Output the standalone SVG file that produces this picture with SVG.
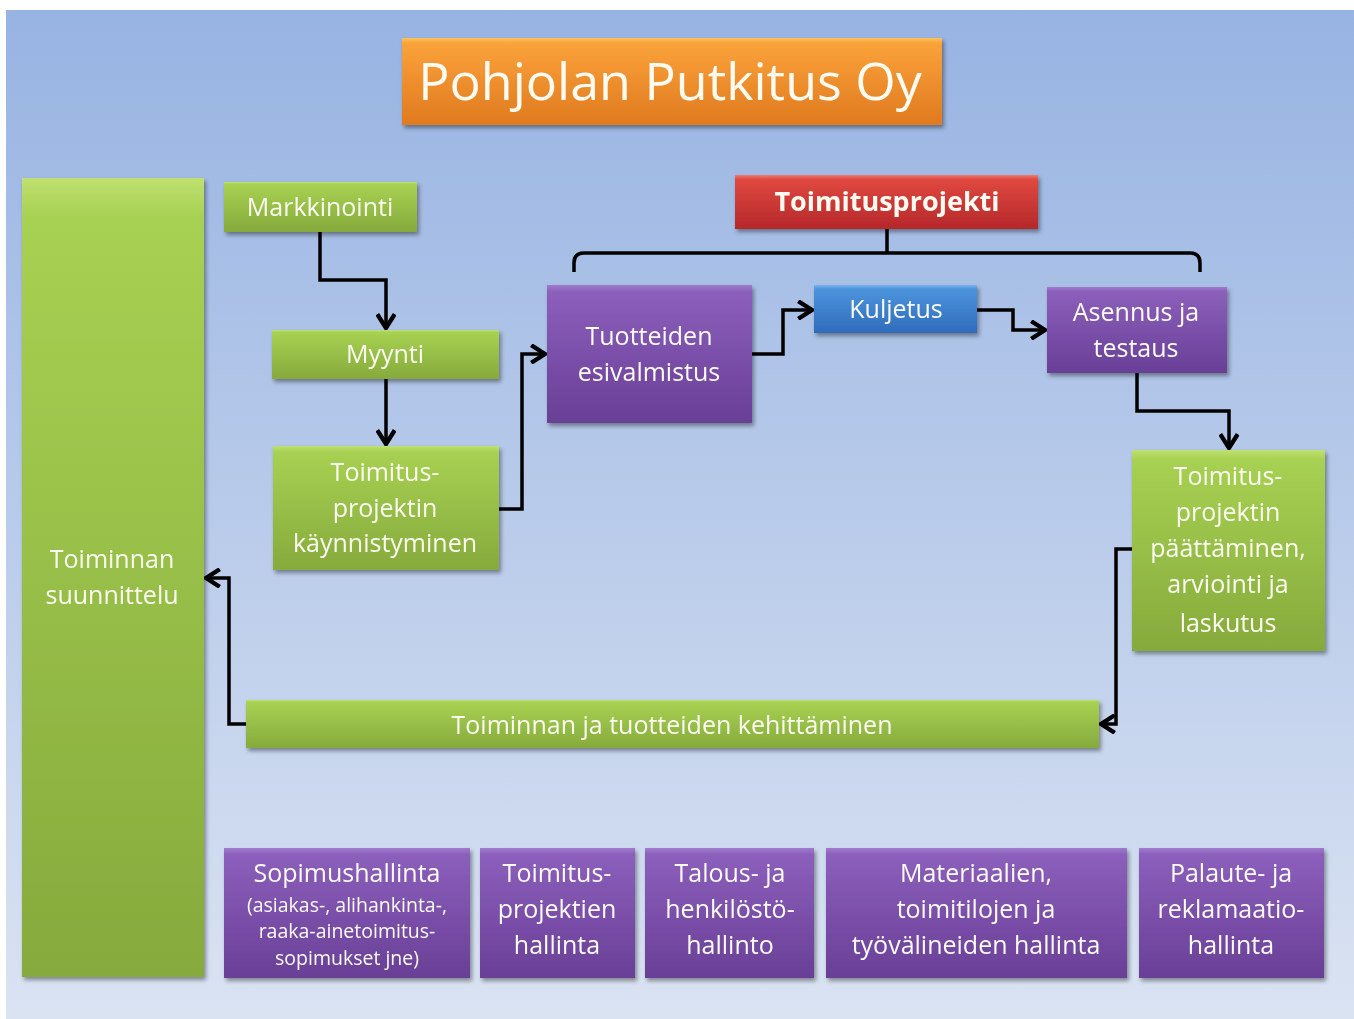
<svg xmlns="http://www.w3.org/2000/svg" width="1354" height="1019" viewBox="0 0 1354 1019">
<defs>
<linearGradient id="bg" x1="0" y1="0" x2="0" y2="1"><stop offset="0" stop-color="#97b3e2"/><stop offset="1" stop-color="#dae3f2"/></linearGradient>
<linearGradient id="gGreen" x1="0" y1="0" x2="0" y2="1"><stop offset="0" stop-color="#bfe070"/><stop offset="0.05" stop-color="#a7d152"/><stop offset="1" stop-color="#86aa3c"/></linearGradient>
<linearGradient id="gPurple" x1="0" y1="0" x2="0" y2="1"><stop offset="0" stop-color="#a07ccc"/><stop offset="0.05" stop-color="#8b5fbb"/><stop offset="1" stop-color="#693f96"/></linearGradient>
<linearGradient id="gBlue" x1="0" y1="0" x2="0" y2="1"><stop offset="0" stop-color="#7ab4ee"/><stop offset="0.08" stop-color="#4c94dc"/><stop offset="1" stop-color="#2e6cbb"/></linearGradient>
<linearGradient id="gRed" x1="0" y1="0" x2="0" y2="1"><stop offset="0" stop-color="#f07a72"/><stop offset="0.08" stop-color="#e04840"/><stop offset="1" stop-color="#b5282a"/></linearGradient>
<linearGradient id="gOrange" x1="0" y1="0" x2="0" y2="1"><stop offset="0" stop-color="#fcc25a"/><stop offset="0.06" stop-color="#faa23a"/><stop offset="1" stop-color="#e07a1f"/></linearGradient>
<filter id="sh" x="-10%" y="-10%" width="120%" height="130%"><feDropShadow dx="2" dy="3" stdDeviation="2" flood-color="#000" flood-opacity="0.4"/></filter>
<marker id="arr" markerUnits="userSpaceOnUse" markerWidth="20" markerHeight="20" viewBox="0 0 14 16" refX="12" refY="8" orient="auto"><path d="M1,1 L12,8 L1,15" fill="none" stroke="#000" stroke-width="3.5"/></marker>
</defs>
<style>
.box{filter:url(#sh);}
.green{fill:url(#gGreen);}
.purple{fill:url(#gPurple);}
.blue{fill:url(#gBlue);}
.red{fill:url(#gRed);}
.orange{fill:url(#gOrange);}
text{font-family:"Open Sans","Noto Sans","Liberation Sans",sans-serif;fill:#fbfbf2;text-anchor:middle;font-size:25px;}
.small{font-size:19.5px;}
.bold{font-weight:bold;font-size:27px;}
.title{font-size:52px;}
.conn{fill:none;stroke:#000;stroke-width:3.5;}
</style>
<rect x="0" y="0" width="1354" height="1019" fill="#ffffff"/>
<rect x="6" y="10" width="1348" height="1009" fill="url(#bg)"/>

<g id="connectors">
<path class="conn" d="M887 229 V253 M574 272 V263 Q574 253 584 253 H1190 Q1200 253 1200 263 V272"/>
<path class="conn" d="M320 232 V280 H386 V328" marker-end="url(#arr)"/>
<path class="conn" d="M386 379 V444" marker-end="url(#arr)"/>
<path class="conn" d="M499 509 H522 V354 H545" marker-end="url(#arr)"/>
<path class="conn" d="M752 354 H783 V310 H812" marker-end="url(#arr)"/>
<path class="conn" d="M977 310 H1013 V330 H1045" marker-end="url(#arr)"/>
<path class="conn" d="M1137 373 V411 H1229 V448" marker-end="url(#arr)"/>
<path class="conn" d="M1132 549 H1116 V724 H1101" marker-end="url(#arr)"/>
<path class="conn" d="M246 724 H229 V578 H206" marker-end="url(#arr)"/>
</g>

<g id="title" class="box"><rect class="orange" x="402" y="38" width="540" height="87"/><text class="title" x="670" y="100">Pohjolan Putkitus Oy</text></g>

<g id="toiminnan-suunnittelu" class="box"><rect class="green" x="22" y="178" width="182" height="799"/><text x="112" y="568">Toiminnan</text><text x="112" y="604">suunnittelu</text></g>

<g id="markkinointi" class="box"><rect class="green" x="224" y="182" width="193" height="50"/><text x="320" y="216">Markkinointi</text></g>

<g id="myynti" class="box"><rect class="green" x="272" y="330" width="227" height="49"/><text x="385" y="363">Myynti</text></g>

<g id="kaynnistyminen" class="box"><rect class="green" x="273" y="446" width="226" height="124"/><text x="385" y="481">Toimitus-</text><text x="385" y="517">projektin</text><text x="385" y="552">käynnistyminen</text></g>

<g id="toimitusprojekti" class="box"><rect class="red" x="735" y="175" width="303" height="54"/><text class="bold" x="887" y="211">Toimitusprojekti</text></g>

<g id="esivalmistus" class="box"><rect class="purple" x="547" y="285" width="205" height="138"/><text x="649" y="345">Tuotteiden</text><text x="649" y="381">esivalmistus</text></g>

<g id="kuljetus" class="box"><rect class="blue" x="814" y="285" width="163" height="48"/><text x="896" y="318">Kuljetus</text></g>

<g id="asennus" class="box"><rect class="purple" x="1047" y="287" width="180" height="86"/><text x="1136" y="321">Asennus ja</text><text x="1136" y="357">testaus</text></g>

<g id="paattaminen" class="box"><rect class="green" x="1132" y="450" width="193" height="201"/><text x="1228" y="485">Toimitus-</text><text x="1228" y="521">projektin</text><text x="1228" y="557">päättäminen,</text><text x="1228" y="593">arviointi ja</text><text x="1228" y="632">laskutus</text></g>

<g id="kehittaminen" class="box"><rect class="green" x="246" y="700" width="853" height="48"/><text x="672" y="734">Toiminnan ja tuotteiden kehittäminen</text></g>

<g id="sopimushallinta" class="box"><rect class="purple" x="224" y="848" width="246" height="130"/><text x="347" y="882">Sopimushallinta</text><text class="small" x="347" y="912">(asiakas-, alihankinta-,</text><text class="small" x="347" y="938">raaka-ainetoimitus-</text><text class="small" x="347" y="965">sopimukset jne)</text></g>

<g id="projektien-hallinta" class="box"><rect class="purple" x="480" y="848" width="155" height="130"/><text x="557" y="882">Toimitus-</text><text x="557" y="918">projektien</text><text x="557" y="954">hallinta</text></g>

<g id="talous" class="box"><rect class="purple" x="645" y="848" width="169" height="130"/><text x="730" y="882">Talous- ja</text><text x="730" y="918">henkilöstö-</text><text x="730" y="954">hallinto</text></g>

<g id="materiaalit" class="box"><rect class="purple" x="826" y="848" width="301" height="130"/><text x="976" y="882">Materiaalien,</text><text x="976" y="918">toimitilojen ja</text><text x="976" y="954">työvälineiden hallinta</text></g>

<g id="palaute" class="box"><rect class="purple" x="1139" y="848" width="185" height="130"/><text x="1231" y="882">Palaute- ja</text><text x="1231" y="918">reklamaatio-</text><text x="1231" y="954">hallinta</text></g>
</svg>
